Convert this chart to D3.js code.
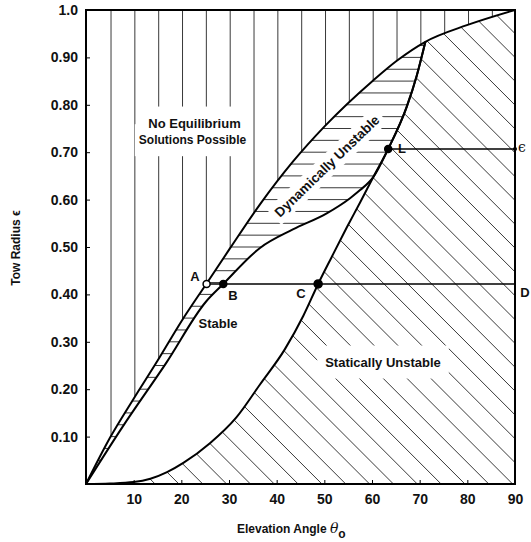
<!DOCTYPE html>
<html>
<head>
<meta charset="utf-8">
<script src="https://cdn.jsdelivr.net/npm/d3@7"></script>
<style>
body { margin: 0; background: #fff; }
text { font-family: "Liberation Sans", Arial, sans-serif; font-weight: bold; fill: #111; }
</style>
</head>
<body>
<svg id="chart" width="531" height="542"></svg>
<script>
// boundary curves: elevation angle (deg) vs tow radius eps
var upperTheta = [0, 5, 10, 15, 20, 25.3, 30.2, 36.5, 43.4, 50.1, 60.3, 65.2, 71.2, 79.9, 90];
var upperEps   = [0, 0.097, 0.18, 0.26, 0.343, 0.423, 0.497, 0.59, 0.68, 0.755, 0.852, 0.893, 0.933, 0.968, 1.0];

// dynamic stability boundary (lower edge of the dynamically unstable band)
var stabTheta = [0, 7.7, 16.8, 25.2, 28.8, 36.5, 43.4, 50.5, 55.4, 57.5];
var stabEps   = [0, 0.121, 0.255, 0.385, 0.422, 0.498, 0.537, 0.571, 0.603, 0.62];

// static stability boundary (joins the stability boundary near L)
var staticTheta = [0, 5, 10, 13.5, 17, 20.5, 26, 31.5, 36.5, 41.7, 45.6, 48.7, 51.5, 54.7, 57.5, 60.3, 63.4, 67.3, 69.4, 71.2];
var staticEps   = [0, 0.001, 0.004, 0.011, 0.025, 0.045, 0.086, 0.14, 0.21, 0.284, 0.355, 0.422, 0.478, 0.541, 0.594, 0.648, 0.707, 0.796, 0.862, 0.933];

// marked points and the two reference lines
var pointNames = ["A", "B", "C", "L"];
var pointTheta = [25.3, 28.8, 48.7, 63.4];
var pointEps   = [0.422, 0.422, 0.422, 0.707];

var xTicks = [10, 20, 30, 40, 50, 60, 70, 80, 90];
var yTicks = [0.1, 0.2, 0.3, 0.4, 0.5, 0.6, 0.7, 0.8, 0.9, 1.0];

var svg = d3.select("#chart");
svg.append("rect").attr("width", 531).attr("height", 542).attr("fill", "#fff");

var x = d3.scaleLinear().domain([0, 90]).range([86, 515]);
var y = d3.scaleLinear().domain([0, 1]).range([484, 10]);

function pts(th, ep) {
    return th.map(function (t, i) { return [x(t), y(ep[i])]; });
}
var line = d3.line().curve(d3.curveMonotoneX);

var mergeAt = staticTheta.indexOf(60.3);
var upper = pts(upperTheta, upperEps);
var stab = pts(stabTheta.concat(staticTheta.slice(mergeAt)), stabEps.concat(staticEps.slice(mergeAt)));
var stat = pts(staticTheta, staticEps);
var junction = stat[stat.length - 1];

var pUpper = line(upper), pStab = line(stab), pStat = line(stat);
function P(a, b) { return "L" + a + "," + b; }

var defs = svg.append("defs");
function clip(id, d) {
    defs.append("clipPath").attr("id", id).append("path").attr("d", d);
}
clip("aboveUpper", pUpper + P(x(90), y(1)) + P(x(0), y(1)) + "Z");
clip("belowUpper", pUpper + P(x(90), y(0)) + "Z");
clip("leftOfStab", pStab + P(junction[0], y(1)) + P(x(0), y(1)) + "Z");
clip("rightOfStatic", pStat + P(junction[0], y(1)) + P(x(90), y(1)) + P(x(90), y(0)) + "Z");

// hatching
var hatchStyle = function (sel) {
    sel.attr("stroke", "#222").attr("stroke-width", 0.9).attr("fill", "none");
};

// no equilibrium: vertical lines
var vertG = svg.append("g").attr("clip-path", "url(#aboveUpper)");
d3.range(5.25, 90, 5).forEach(function (t) {
    vertG.append("line").attr("x1", x(t)).attr("x2", x(t)).attr("y1", y(0)).attr("y2", y(1)).call(hatchStyle);
});

// dynamically unstable: horizontal lines
var horG = svg.append("g").attr("clip-path", "url(#belowUpper)")
    .append("g").attr("clip-path", "url(#leftOfStab)");
d3.range(0.025, 1, 0.025).forEach(function (e) {
    horG.append("line").attr("x1", x(0)).attr("x2", x(90)).attr("y1", y(e)).attr("y2", y(e)).call(hatchStyle);
});

// statically unstable: diagonal lines
var diagG = svg.append("g").attr("clip-path", "url(#belowUpper)")
    .append("g").attr("clip-path", "url(#rightOfStatic)");
d3.range(4.5, 200, 5).forEach(function (t) {
    var x0 = x(t), y0 = y(0), L = 700;
    diagG.append("line").attr("x1", x0).attr("y1", y0).attr("x2", x0 - L).attr("y2", y0 - L).call(hatchStyle);
});

var knockLayer = svg.append("g");
var curveLayer = svg.append("g");
var textLayer = svg.append("g");

// boundary curves
[pUpper, pStab, pStat].forEach(function (d) {
    curveLayer.append("path").attr("d", d).attr("fill", "none").attr("stroke", "#000")
        .attr("stroke-width", 2).attr("stroke-linejoin", "round");
});

// frame
svg.append("rect").attr("x", x(0)).attr("y", y(1)).attr("width", x(90) - x(0)).attr("height", y(0) - y(1))
    .attr("fill", "none").attr("stroke", "#000").attr("stroke-width", 2);

// reference lines A-D and L-eps
svg.append("line").attr("x1", x(pointTheta[0])).attr("x2", x(90)).attr("y1", y(pointEps[0])).attr("y2", y(pointEps[0]))
    .attr("stroke", "#000").attr("stroke-width", 1.5);
svg.append("line").attr("x1", x(pointTheta[3])).attr("x2", x(90)).attr("y1", y(pointEps[3])).attr("y2", y(pointEps[3]))
    .attr("stroke", "#000").attr("stroke-width", 1.5);

// points
pointNames.forEach(function (n, i) {
    svg.append("circle").attr("cx", x(pointTheta[i])).attr("cy", y(pointEps[i]))
        .attr("r", n === "C" ? 4 : 3.5)
        .attr("fill", n === "A" ? "#fff" : "#000").attr("stroke", "#000").attr("stroke-width", 1.5);
});
svg.append("circle").attr("cx", x(90)).attr("cy", y(pointEps[3])).attr("r", 2).attr("fill", "#000");

// labels
function label(txt, cx, cy, size, rot, pad) {
    var tr = "translate(" + cx + "," + cy + ")" + (rot ? " rotate(" + rot + ")" : "");
    var t = textLayer.append("text").attr("transform", tr).attr("text-anchor", "middle")
        .attr("dy", "0.35em").style("font-size", size + "px").text(txt);
    if (pad) {
        var b = t.node().getBBox();
        knockLayer.append("rect").attr("transform", tr)
            .attr("x", b.x - pad[0]).attr("y", b.y - pad[1])
            .attr("width", b.width + 2 * pad[0]).attr("height", b.height + 2 * pad[1])
            .attr("fill", "#fff");
    }
    return t;
}
label("No Equilibrium", 194.5, 123, 13, 0, [4, 9]);
label("Solutions Possible", 192.5, 140, 12, 0, [4, 9]);
label("Dynamically Unstable", 327, 166, 13.5, -44, [4, 3]);
label("Statically Unstable", 383, 362, 13, 0, [8, 9]);
label("Stable", 218, 323, 13, 0, null);
label("A", 195, 276, 13, 0, null);
label("B", 233, 295, 13, 0, null);
label("C", 301, 293, 13, 0, null);
label("D", 525, 292, 13, 0, null);
label("L", 402, 148, 13, 0, null);
label("\u03F5", 522, 147, 14, 0, null).style("font-weight", "normal").style("font-family", "DejaVu Serif, serif");

// axes
var xAxis = svg.append("g").attr("transform", "translate(0," + y(0) + ")")
    .call(d3.axisBottom(x).tickValues(xTicks).tickSize(-4).tickPadding(10).tickFormat(d3.format("d")));
var yAxis = svg.append("g").attr("transform", "translate(" + x(0) + ",0)")
    .call(d3.axisLeft(y).tickValues(yTicks).tickSize(-4).tickPadding(8)
        .tickFormat(function (d) { return d === 1 ? "1.0" : d3.format(".2f")(d); }));
[xAxis, yAxis].forEach(function (a) {
    a.select(".domain").remove();
    a.selectAll(".tick line").attr("stroke", "#000").attr("stroke-width", 1);
    a.selectAll(".tick text").style("font-size", "14px").style("font-weight", "bold")
        .style("font-family", "Liberation Sans, Arial, sans-serif").attr("fill", "#111");
});

// axis titles
var xt = svg.append("text").attr("x", 237).attr("y", 533).style("font-size", "12px");
xt.append("tspan").text("Elevation Angle ");
xt.append("tspan").text("\u03B8").style("font-style", "italic").style("font-weight", "normal")
    .style("font-family", "DejaVu Serif, serif").style("font-size", "14px");
xt.append("tspan").text("o").attr("dy", 5).style("font-size", "12px");

svg.append("text").attr("transform", "translate(20,248) rotate(-90)").attr("text-anchor", "middle")
    .style("font-size", "12px").text("Tow Radius \u03F5");
</script>
</body>
</html>
